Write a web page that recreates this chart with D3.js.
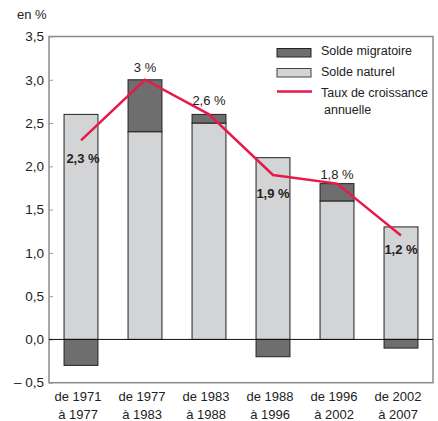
<!DOCTYPE html>
<html>
<head>
<meta charset="utf-8">
<script src="https://cdn.jsdelivr.net/npm/d3@7"></script>
<style>
  body { margin: 0; background: #fff; }
  svg { display: block; font-family: "Liberation Sans", Arial, sans-serif; }
</style>
</head>
<body>
<div id="chart"></div>
<script>
// Data
const periods = [['de 1971', 'à 1977'], ['de 1977', 'à 1983'], ['de 1983', 'à 1988'],
	['de 1988', 'à 1996'], ['de 1996', 'à 2002'], ['de 2002', 'à 2007']];
const soldeNaturel = [2.6, 2.4, 2.5, 2.1, 1.6, 1.3];
const soldeMigratoire = [-0.3, 0.6, 0.1, -0.2, 0.2, -0.1];
const tauxCroissance = [2.3, 3.0, 2.6, 1.9, 1.8, 1.2];
const tauxLabels = ['2,3 %', '3 %', '2,6 %', '1,9 %', '1,8 %', '1,2 %'];
const yTicks = [-0.5, 0, 0.5, 1, 1.5, 2, 2.5, 3, 3.5];

// Attributes
const width = 438;
const height = 421;
const margin = { top: 36.5, right: 5, bottom: 38.3, left: 49 };
const darkGrey = '#6e6e6e';
const lightGrey = '#d3d4d6';
const red = '#e8194b';

const svg = d3.select('#chart').append('svg')
	.attr('width', width).attr('height', height);

const x = d3.scaleBand()
	.domain(d3.range(periods.length))
	.range([margin.left, width - margin.right])
	.paddingInner(0.47)
	.paddingOuter(0.235);

const y = d3.scaleLinear()
	.domain([-0.5, 3.5])
	.range([height - margin.bottom, margin.top]);

// Plot frame
svg.append('rect')
	.attr('x', margin.left).attr('y', margin.top)
	.attr('width', width - margin.right - margin.left)
	.attr('height', y(-0.5) - y(3.5))
	.attr('fill', 'none').attr('stroke', '#8a8a8a').attr('stroke-width', 1.5);

// Y axis
const yAxis = svg.append('g')
	.attr('transform', `translate(${margin.left},0)`)
	.call(d3.axisRight(y).tickValues(yTicks).tickSize(4).tickFormat(''));
yAxis.select('.domain').remove();
yAxis.selectAll('line').attr('stroke', '#999');
svg.append('g').selectAll('text')
	.data(yTicks)
	.join('text')
	.attr('x', 44).attr('y', (d) => y(d))
	.attr('dy', '0.35em')
	.attr('text-anchor', 'end')
	.attr('font-size', 13.5).attr('fill', '#222')
	.text((d) => (d < 0 ? '\u2013 ' : '') + d3.format('.1f')(Math.abs(d)).replace('.', ','));

svg.append('text')
	.attr('x', 17).attr('y', 19)
	.attr('font-size', 13).attr('fill', '#222')
	.text('en %');

// Bars: natural balance from zero
svg.append('g').selectAll('rect')
	.data(soldeNaturel)
	.join('rect')
	.attr('x', (d, i) => x(i))
	.attr('y', (d) => y(d))
	.attr('width', x.bandwidth())
	.attr('height', (d) => y(0) - y(d))
	.attr('fill', lightGrey).attr('stroke', '#222').attr('stroke-width', 1);

// Migration balance stacked on top (or below zero)
svg.append('g').selectAll('rect')
	.data(soldeMigratoire)
	.join('rect')
	.attr('x', (d, i) => x(i))
	.attr('y', (d, i) => (d >= 0 ? y(soldeNaturel[i] + d) : y(0)))
	.attr('width', x.bandwidth())
	.attr('height', (d) => Math.abs(y(0) - y(d)))
	.attr('fill', darkGrey).attr('stroke', '#222').attr('stroke-width', 1);

// Zero line
svg.append('line')
	.attr('x1', margin.left).attr('x2', width - margin.right)
	.attr('y1', y(0)).attr('y2', y(0))
	.attr('stroke', '#111').attr('stroke-width', 1);

// Growth rate line
const line = d3.line()
	.x((d, i) => x(i) + x.bandwidth() / 2)
	.y((d) => y(d));
svg.append('path')
	.datum(tauxCroissance)
	.attr('d', line)
	.attr('fill', 'none').attr('stroke', red).attr('stroke-width', 2.5);

// Value labels
const labelPos = [
	{ dy: 18, bold: true }, { dy: -12, bold: false }, { dy: -14, bold: false },
	{ dy: 18, bold: true }, { dy: -9, bold: false }, { dy: 14, bold: true },
];
svg.append('g').selectAll('text')
	.data(tauxCroissance)
	.join('text')
	.attr('x', (d, i) => x(i) + x.bandwidth() / 2 + (i === 0 ? 2 : 0))
	.attr('y', (d, i) => y(d) + labelPos[i].dy)
	.attr('dy', '0.35em')
	.attr('text-anchor', 'middle')
	.attr('font-size', 13)
	.attr('font-weight', (d, i) => (labelPos[i].bold ? 'bold' : 'normal'))
	.attr('fill', '#222')
	.text((d, i) => tauxLabels[i]);

// X labels
const xl = svg.append('g').selectAll('text')
	.data(periods)
	.join('text')
	.attr('text-anchor', 'middle')
	.attr('font-size', 13).attr('fill', '#222')
	.attr('transform', (d, i) => `translate(${x(i) + x.bandwidth() / 2 - 3},0)`);
xl.append('tspan').attr('x', 0).attr('y', 401).text((d) => d[0]);
xl.append('tspan').attr('x', 0).attr('y', 419).text((d) => d[1]);

// Legend
const legend = svg.append('g');
legend.append('rect').attr('x', 277).attr('y', 48.5).attr('width', 34).attr('height', 8.5)
	.attr('fill', darkGrey).attr('stroke', '#222');
legend.append('rect').attr('x', 277).attr('y', 68.5).attr('width', 34).attr('height', 8.5)
	.attr('fill', lightGrey).attr('stroke', '#444');
legend.append('line').attr('x1', 277).attr('x2', 312).attr('y1', 91.5).attr('y2', 91.5)
	.attr('stroke', red).attr('stroke-width', 2.5);
const legendText = [['Solde migratoire', 321, 55], ['Solde naturel', 321, 76],
	['Taux de croissance', 321, 97], ['annuelle', 324, 114]];
legend.selectAll('text')
	.data(legendText)
	.join('text')
	.attr('x', (d) => d[1]).attr('y', (d) => d[2])
	.attr('font-size', 12.5).attr('fill', '#222')
	.text((d) => d[0]);
</script>
</body>
</html>
